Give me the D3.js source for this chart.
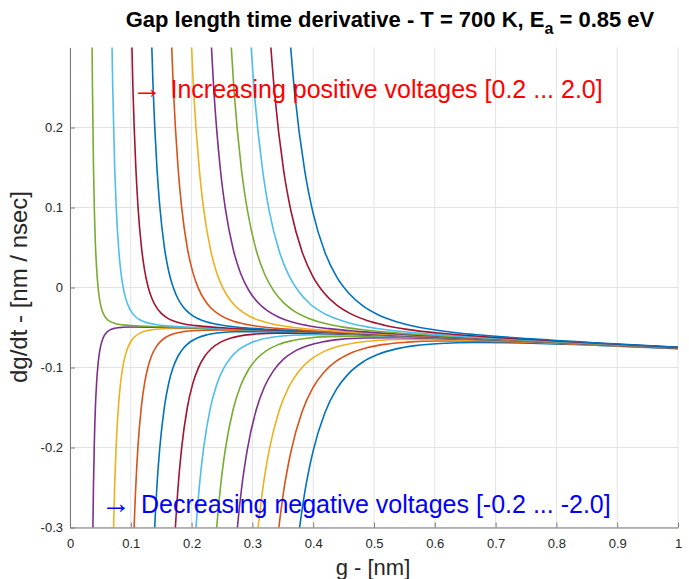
<!DOCTYPE html>
<html><head><meta charset="utf-8">
<script src="https://cdn.jsdelivr.net/npm/d3@7"></script>
<style>
body{margin:0;background:#fff}
text{font-family:"Liberation Sans",Arial,Helvetica,sans-serif}
</style>
</head><body>
<svg id="c" width="689" height="579"></svg>
<script>
// |V| of each curve pair (positive and negative share the same magnitude)
const voltages = [0.2, 0.38, 0.56, 0.74, 0.92, 1.10, 1.28, 1.46, 1.64, 1.82, 2.0];

// g positions [nm] sampled along each curve (per |V|)
const gSamples = [
  [0.0358,0.0369,0.0386,0.0399,0.0419,0.0439,0.0459,0.0482,0.0506,0.0537,0.0568,0.0609,0.0665,0.0739,0.0870,0.1,0.15,0.2,0.3,0.4,0.5,0.6,0.7,0.8,0.9,1.0],
  [0.0680,0.0702,0.0734,0.0759,0.0797,0.0833,0.0871,0.0915,0.0961,0.1020,0.1079,0.1157,0.1264,0.1404,0.1653,0.2,0.3,0.4,0.5,0.6,0.7,0.8,0.9,1.0],
  [0.1003,0.1034,0.1082,0.1118,0.1174,0.1228,0.1284,0.1349,0.1417,0.1503,0.1590,0.1705,0.1862,0.2069,0.2436,0.3,0.4,0.5,0.6,0.7,0.8,0.9,1.0],
  [0.1325,0.1366,0.1429,0.1478,0.1552,0.1623,0.1697,0.1782,0.1872,0.1986,0.2101,0.2254,0.2461,0.2734,0.3219,0.4,0.5,0.6,0.7,0.8,0.9,1.0],
  [0.1647,0.1699,0.1777,0.1837,0.1929,0.2018,0.2110,0.2216,0.2327,0.2469,0.2612,0.2802,0.3059,0.3399,0.4002,0.5,0.6,0.7,0.8,0.9,1.0],
  [0.1970,0.2031,0.2125,0.2197,0.2307,0.2412,0.2522,0.2649,0.2782,0.2952,0.3123,0.3350,0.3658,0.4065,0.4785,0.6,0.7,0.8,0.9,1.0],
  [0.2292,0.2364,0.2472,0.2556,0.2684,0.2807,0.2935,0.3083,0.3238,0.3435,0.3635,0.3898,0.4257,0.4730,0.5568,0.7,0.8,0.9,1.0],
  [0.2614,0.2696,0.2820,0.2916,0.3062,0.3202,0.3348,0.3516,0.3693,0.3918,0.4146,0.4446,0.4855,0.5395,0.6351,0.8,0.9,1.0],
  [0.2936,0.3028,0.3168,0.3275,0.3439,0.3597,0.3761,0.3950,0.4148,0.4401,0.4657,0.4995,0.5454,0.6060,0.7134,0.8,0.9,1.0],
  [0.3259,0.3361,0.3515,0.3635,0.3817,0.3991,0.4173,0.4383,0.4604,0.4884,0.5168,0.5543,0.6052,0.6725,0.7917,0.9,1.0],
  [0.3581,0.3693,0.3863,0.3994,0.4194,0.4386,0.4586,0.4817,0.5059,0.5367,0.5679,0.6091,0.6651,0.7390,0.8700,1.0]
];

// dg/dt [nm/nsec] for positive voltages +|V|
const dgdtPositive = [
  [0.3526,0.2526,0.1526,0.1026,0.0525,0.0225,0.0025,-0.0125,-0.0226,-0.0306,-0.0356,-0.0397,-0.0427,-0.0449,-0.0467,-0.0475,-0.0491,-0.0504,-0.0530,-0.0557,-0.0586,-0.0617,-0.0649,-0.0683,-0.0719,-0.0755],
  [0.3521,0.2521,0.1520,0.1020,0.0519,0.0218,0.0018,-0.0133,-0.0233,-0.0314,-0.0366,-0.0407,-0.0439,-0.0462,-0.0482,-0.0497,-0.0527,-0.0557,-0.0586,-0.0617,-0.0649,-0.0683,-0.0719,-0.0755],
  [0.3516,0.2515,0.1514,0.1014,0.0513,0.0211,0.0010,-0.0141,-0.0242,-0.0324,-0.0376,-0.0419,-0.0452,-0.0477,-0.0500,-0.0523,-0.0554,-0.0584,-0.0617,-0.0649,-0.0683,-0.0719,-0.0755],
  [0.3510,0.2509,0.1507,0.1006,0.0505,0.0203,0.0002,-0.0150,-0.0252,-0.0335,-0.0387,-0.0431,-0.0466,-0.0493,-0.0521,-0.0550,-0.0582,-0.0615,-0.0649,-0.0683,-0.0719,-0.0755],
  [0.3503,0.2502,0.1500,0.0999,0.0497,0.0195,-0.0008,-0.0160,-0.0263,-0.0346,-0.0400,-0.0445,-0.0482,-0.0510,-0.0542,-0.0579,-0.0613,-0.0646,-0.0681,-0.0717,-0.0754],
  [0.3496,0.2494,0.1492,0.0990,0.0488,0.0185,-0.0018,-0.0171,-0.0274,-0.0359,-0.0413,-0.0459,-0.0497,-0.0529,-0.0565,-0.0610,-0.0645,-0.0680,-0.0717,-0.0753],
  [0.3488,0.2486,0.1484,0.0982,0.0478,0.0175,-0.0028,-0.0182,-0.0286,-0.0371,-0.0427,-0.0474,-0.0514,-0.0548,-0.0589,-0.0642,-0.0678,-0.0716,-0.0752],
  [0.3480,0.2478,0.1475,0.0972,0.0468,0.0165,-0.0039,-0.0193,-0.0298,-0.0385,-0.0441,-0.0489,-0.0532,-0.0568,-0.0613,-0.0676,-0.0714,-0.0751],
  [0.3472,0.2469,0.1466,0.0963,0.0459,0.0154,-0.0050,-0.0206,-0.0311,-0.0398,-0.0456,-0.0506,-0.0550,-0.0589,-0.0639,-0.0673,-0.0712,-0.0750],
  [0.3464,0.2461,0.1457,0.0953,0.0448,0.0143,-0.0062,-0.0218,-0.0324,-0.0413,-0.0471,-0.0523,-0.0569,-0.0610,-0.0665,-0.0710,-0.0748],
  [0.3455,0.2452,0.1447,0.0943,0.0438,0.0132,-0.0073,-0.0231,-0.0338,-0.0427,-0.0487,-0.0540,-0.0588,-0.0632,-0.0693,-0.0746]
];

// dg/dt [nm/nsec] for negative voltages -|V|
const dgdtNegative = [
  [-0.4474,-0.3474,-0.2474,-0.1974,-0.1475,-0.1175,-0.0975,-0.0825,-0.0726,-0.0646,-0.0596,-0.0557,-0.0527,-0.0509,-0.0497,-0.0493,-0.0497,-0.0506,-0.0530,-0.0557,-0.0586,-0.0617,-0.0649,-0.0683,-0.0719,-0.0755],
  [-0.4479,-0.3479,-0.2480,-0.1980,-0.1481,-0.1182,-0.0982,-0.0833,-0.0733,-0.0654,-0.0606,-0.0567,-0.0539,-0.0522,-0.0512,-0.0513,-0.0533,-0.0557,-0.0586,-0.0617,-0.0649,-0.0683,-0.0719,-0.0755],
  [-0.4484,-0.3485,-0.2486,-0.1986,-0.1487,-0.1189,-0.0990,-0.0841,-0.0742,-0.0664,-0.0616,-0.0579,-0.0552,-0.0537,-0.0530,-0.0537,-0.0560,-0.0588,-0.0617,-0.0649,-0.0683,-0.0719,-0.0755],
  [-0.4490,-0.3491,-0.2493,-0.1994,-0.1495,-0.1197,-0.0998,-0.0850,-0.0752,-0.0675,-0.0627,-0.0591,-0.0566,-0.0553,-0.0551,-0.0564,-0.0590,-0.0619,-0.0649,-0.0683,-0.0719,-0.0755],
  [-0.4497,-0.3498,-0.2500,-0.2001,-0.1503,-0.1205,-0.1008,-0.0860,-0.0763,-0.0686,-0.0640,-0.0605,-0.0582,-0.0570,-0.0572,-0.0593,-0.0621,-0.0652,-0.0685,-0.0721,-0.0756],
  [-0.4504,-0.3506,-0.2508,-0.2010,-0.1512,-0.1215,-0.1018,-0.0871,-0.0774,-0.0699,-0.0653,-0.0619,-0.0597,-0.0589,-0.0595,-0.0624,-0.0653,-0.0686,-0.0721,-0.0757],
  [-0.4512,-0.3514,-0.2516,-0.2018,-0.1522,-0.1225,-0.1028,-0.0882,-0.0786,-0.0711,-0.0667,-0.0634,-0.0614,-0.0608,-0.0619,-0.0656,-0.0688,-0.0722,-0.0758],
  [-0.4520,-0.3522,-0.2525,-0.2028,-0.1532,-0.1235,-0.1039,-0.0893,-0.0798,-0.0725,-0.0681,-0.0649,-0.0632,-0.0628,-0.0643,-0.0690,-0.0724,-0.0759],
  [-0.4528,-0.3531,-0.2534,-0.2037,-0.1541,-0.1246,-0.1050,-0.0906,-0.0811,-0.0738,-0.0696,-0.0666,-0.0650,-0.0649,-0.0669,-0.0693,-0.0726,-0.0760],
  [-0.4536,-0.3539,-0.2543,-0.2047,-0.1552,-0.1257,-0.1062,-0.0918,-0.0824,-0.0753,-0.0711,-0.0683,-0.0669,-0.0670,-0.0695,-0.0728,-0.0762],
  [-0.4545,-0.3548,-0.2553,-0.2057,-0.1562,-0.1268,-0.1073,-0.0931,-0.0838,-0.0767,-0.0727,-0.0700,-0.0688,-0.0692,-0.0723,-0.0764]
];

const xTicks = [0,0.1,0.2,0.3,0.4,0.5,0.6,0.7,0.8,0.9,1];
const xTickLabels = ["0","0.1","0.2","0.3","0.4","0.5","0.6","0.7","0.8","0.9","1"];
const yTicks = [-0.3,-0.2,-0.1,0,0.1,0.2];
const yTickLabels = ["-0.3","-0.2","-0.1","0","0.1","0.2"];
const colorOrder = ["#0072BD","#D95319","#EDB120","#7E2F8E","#77AC30","#4DBEEE","#A2142F"];

const titleMain = "Gap length time derivative - T = 700 K, E";
const titleSub = "a";
const titleEnd = " = 0.85 eV";
const xLabel = "g - [nm]";
const yLabel = "dg/dt - [nm / nsec]";
const notePos = "Increasing positive voltages [0.2 ... 2.0]";
const noteNeg = "Decreasing negative voltages [-0.2 ... -2.0]";

// ---- drawing ----
const svg = d3.select("#c");
const L = 70, R = 678, T = 47.5, B = 527.5;
const x = d3.scaleLinear().domain([0,1]).range([L,R]);
const y = d3.scaleLinear().domain([-0.3,0.3]).range([B,T]);

// grid
const grid = svg.append("g").attr("stroke","#e3e3e3").attr("stroke-width",1);
grid.selectAll("line.gx").data(xTicks).enter().append("line")
  .attr("x1",d=>x(d)).attr("x2",d=>x(d)).attr("y1",T).attr("y2",B);
grid.selectAll("line.gy").data(yTicks).enter().append("line")
  .attr("x1",L).attr("x2",R).attr("y1",d=>y(d)).attr("y2",d=>y(d));

// series in plotting order: negatives -2.0 ... -0.2, then positives 0.2 ... 2.0
const series = [];
for (let k = voltages.length-1; k >= 0; k--)
  series.push({v:-voltages[k], pts: gSamples[k].map((g,i)=>[g, dgdtNegative[k][i]])});
for (let k = 0; k < voltages.length; k++)
  series.push({v:voltages[k], pts: gSamples[k].map((g,i)=>[g, dgdtPositive[k][i]])});

svg.append("clipPath").attr("id","clip").append("rect")
  .attr("x",L).attr("y",T).attr("width",R-L).attr("height",B-T);

const line = d3.line().x(d=>x(d[0])).y(d=>y(d[1])).curve(d3.curveMonotoneX);
svg.append("g").attr("clip-path","url(#clip)")
  .selectAll("path").data(series).enter().append("path")
  .attr("d",d=>line(d.pts))
  .attr("fill","none")
  .attr("stroke",(d,i)=>colorOrder[i%colorOrder.length])
  .attr("stroke-width",1.6);

// axes
const axCol = "#262626";
const yAxis = d3.axisLeft(y).tickValues(yTicks).tickFormat((d,i)=>yTickLabels[i])
  .tickSizeInner(-5).tickSizeOuter(0).tickPadding(7);
const gy = svg.append("g").attr("transform",`translate(${L},0)`).call(yAxis);
const xAxis = d3.axisBottom(x).tickValues(xTicks).tickFormat((d,i)=>xTickLabels[i])
  .tickSizeInner(-5).tickSizeOuter(0).tickPadding(11);
const gx = svg.append("g").attr("transform",`translate(0,${B})`).call(xAxis);
[gx,gy].forEach(g=>{
  g.select(".domain").attr("stroke","#7a7a7a").attr("stroke-width",1);
  g.selectAll(".tick line").attr("stroke","#7a7a7a");
  g.selectAll(".tick text").attr("fill",axCol)
    .style("font-family","'Liberation Sans',Arial,sans-serif").style("font-size","13px");
});

// title
const title = svg.append("text").attr("x",390).attr("y",27).attr("text-anchor","middle")
  .attr("font-weight","bold").attr("font-size",22).attr("fill","#000");
title.append("tspan").text(titleMain);
title.append("tspan").attr("dy",7).attr("font-size",16).text(titleSub);
title.append("tspan").attr("dy",-7).text(titleEnd);

// axis labels
svg.append("text").attr("x",373).attr("y",575).attr("text-anchor","middle")
  .attr("font-size",22).attr("fill",axCol).text(xLabel);
svg.append("text").attr("transform","translate(27,287) rotate(-90)").attr("text-anchor","middle")
  .attr("font-size",24).attr("fill",axCol).text(yLabel);

// annotations
const a1 = svg.append("text").attr("y",97.5).attr("font-size",25).attr("fill","#ff0000");
a1.append("tspan").attr("x",132).attr("font-family","'Liberation Serif',serif").attr("font-size",30).text("\u2192");
a1.append("tspan").attr("x",170.5).text(notePos);
const a2 = svg.append("text").attr("y",513).attr("font-size",25).attr("fill","#0000ff");
a2.append("tspan").attr("x",101).attr("font-family","'Liberation Serif',serif").attr("font-size",30).text("\u2192");
a2.append("tspan").attr("x",141).text(noteNeg);
</script>
</body></html>
